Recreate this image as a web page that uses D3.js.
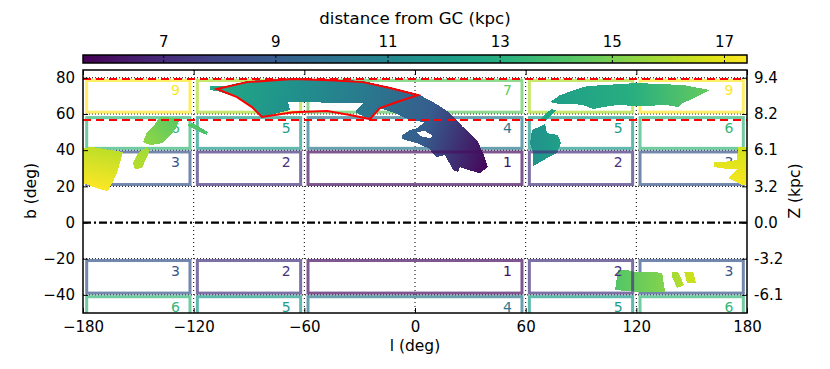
<!DOCTYPE html>
<html>
<head>
<meta charset="utf-8">
<script src="https://cdn.jsdelivr.net/npm/d3@7"></script>
<style>
    body { margin: 0; background: #fff; }
    text { font-family: "DejaVu Sans", sans-serif; }
</style>
</head>
<body>
<svg></svg>
<script>
// axis ticks
const lTicks = [-180, -120, -60, 0, 60, 120, 180];
const bTicks = [-40, -20, 0, 20, 40, 60, 80];
const zLabels = ['-6.1', '-3.2', '0.0', '3.2', '6.1', '8.2', '9.4'];
const distTicks = [7, 9, 11, 13, 15, 17];

// reference lines (deg)
const lGrid = [-120, -60, 0, 60, 120];
const bGrid = [-40, -20, 20, 40, 60, 80];
const bRed = [79.3, 56.6];

// survey boxes: ranges in deg, number and distance of each field
const colRanges = [[-178, -122], [-118, -62], [-58, 58], [62, 118], [122, 178]];
const rowRanges = [[61, 78.5], [41, 58], [21, 39], [-39, -21], [-52, -41]];
const rowFields = [[9, 8, 7, 8, 9], [6, 5, 4, 5, 6], [3, 2, 1, 2, 3], [3, 2, 1, 2, 3], [6, 5, 4, 5, 6]];
const fieldDist = [6.0, 7.3, 8.7, 10.3, 12.0, 13.4, 14.5, 16.0, 17.4];

// stream outlines, [l, b]
const mainStream = [[-111,75.4],[-103,75.4],[-91,78.2],[-66,79.8],[-46,79.3],[-28,78.2],[-13.5,74.9],[1.6,71],[10.8,66],[19,60.5],[26,52.8],[33.6,45.6],[36.9,38.4],[39.6,30.7],[35.2,27.3],[28.7,29],[24.4,30.7],[23.3,27.9],[20.6,29],[16.3,37.3],[11.9,36.2],[9.2,38.4],[8.1,40.6],[1.1,43.9],[-7,46.1],[-7,48.3],[-2.7,51.1],[1.1,52.2],[5.4,55.5],[-2.7,56.6],[-10.8,60.5],[-19,63.3],[-22.8,59.9],[-24.4,57.2],[-32.5,61],[-28.2,66],[-68.9,66.6],[-67.8,62.2],[-83,58.3],[-88.4,63.8],[-96.5,69.3],[-107.4,72.7],[-111,73.2]];
const mainHole = [[1.1,50],[5.4,50.6],[9.8,47.8],[8.1,46.7],[2.7,47.8]];
const rightArc = [[73.2,66.6],[78.6,70.4],[89.5,74.3],[93.8,75.4],[120.4,77.1],[145.3,76],[160,73.2],[154.6,70.4],[145.3,66],[142.6,63.8],[136.7,64.9],[122,64.4],[109.5,64.9],[102,63.8],[96.5,62.7],[91.1,64.9],[85.7,65.5],[78.6,65.5]];
const arcStrip = [[73.8,62.7],[76.5,62.2],[71,56.6],[67.8,57.2]];
const midClump = [[63.4,51.1],[70.5,54.4],[71.6,49.4],[77.5,48.3],[79.2,43.9],[77,38.4],[71.6,35.6],[64,31.2],[64,38.4],[62.4,43.9]];
const leftUpper = [[-138.3,58.3],[-127.4,57.7],[-130.2,51.1],[-136.7,43.9],[-143.7,42.8],[-147.5,44.5],[-145.3,50],[-142.6,52.2]];
const leftLower = [[-145.3,41.7],[-143.7,40],[-148,30.1],[-151.8,29.6],[-152.9,32.9],[-150.2,38.4]];
const leftSliver = [[-123.6,53.9],[-120.4,55],[-112.3,50],[-112.8,48.3],[-120.9,52.2]];
const edgeLeft = [[-180,41.2],[-175.2,41.7],[-158.4,39],[-161,29],[-163.8,22.4],[-166.5,17.4],[-169.7,18],[-180,21.8]];
const edgeRight = [[162.1,33.4],[166.5,33.4],[174.6,34.5],[175.2,41.7],[180,41.7],[180,20.7],[177.3,20.7],[169.7,24.6],[172.5,27.3],[174.6,29.6],[169.2,29.6],[162.1,30.7]];
const southBig = [[110,-26.2],[115,-26.2],[119.3,-27.3],[129,-27.3],[134,-27.9],[135.6,-38.4],[122,-38.4],[108.5,-37.3]];
const southMid = [[139.4,-27.3],[142.6,-27.3],[145.9,-34.5],[142.1,-36.2],[139.4,-30.1]];
const southSmall = [[145.9,-27.3],[150.8,-27.3],[152.4,-33.4],[147.5,-33.4]];

// the red outline of the selected stream
const redOutline = [[-107.4,73.8],[-91.1,77.6],[-66.2,79.3],[-46.1,78.7],[-28.2,77.6],[-13.6,74.3],[1.6,70.4],[-9.8,66.6],[-19,63.3],[-24.4,57.2],[-35.2,59.4],[-47.7,61.6],[-66.2,61],[-83,58.3],[-88.4,63.8],[-96.5,69.3]];

// rings, gradient ends [l, b] and distances along the gradient
const streams = [
    { rings: [mainStream, mainHole], from: [-107, 74], to: [38, 28], dist: [12.7, 11.6, 10.4, 9.0, 5.8] },
    { rings: [rightArc], from: [75, 68], to: [160, 73], dist: [12.2, 13.0, 14.6] },
    { rings: [arcStrip], from: [70, 60], to: [72, 60], dist: [12.6, 12.6] },
    { rings: [midClump], from: [62, 40], to: [80, 40], dist: [11.5, 12.3] },
    { rings: [leftUpper], from: [-130, 58], to: [-146, 44], dist: [14.4, 15.4] },
    { rings: [leftLower], from: [-145, 42], to: [-151, 30], dist: [15.7, 16.1] },
    { rings: [leftSliver], from: [-122, 52], to: [-112, 50], dist: [14.2, 14.0] },
    { rings: [edgeLeft], from: [-165, 41], to: [-170, 18], dist: [16.2, 17.4] },
    { rings: [edgeRight], from: [175, 41], to: [175, 21], dist: [16.6, 17.3] },
    { rings: [southBig], from: [108, -32], to: [136, -32], dist: [14.2, 15.2] },
    { rings: [southMid], from: [140, -30], to: [146, -30], dist: [15.8, 16.1] },
    { rings: [southSmall], from: [146, -30], to: [152, -30], dist: [16.4, 16.5] }
];

const width = 830, height = 369;
const fontSize = '15px';

const svg = d3.select('svg')
    .attr('width', width)
    .attr('height', height)
    .style('display', 'block');

const x = d3.scaleLinear().domain([-180, 180]).range([83, 747]);
const y = d3.scaleLinear().domain([-50, 84.3]).range([313, 70]);
const distScale = d3.scaleLinear().domain([5.57, 17.41]).range([83, 747]);
const color = d3.scaleSequential(d3.interpolateViridis).domain([5.57, 17.41]);

const defs = svg.append('defs');
defs.append('clipPath').attr('id', 'plot')
    .append('rect')
    .attr('x', x(-180)).attr('y', y(84.3))
    .attr('width', x(180) - x(-180)).attr('height', y(-50) - y(84.3));

const cbGrad = defs.append('linearGradient').attr('id', 'cb');
d3.range(0, 1.0001, 0.05).forEach(t => {
    cbGrad.append('stop').attr('offset', t).attr('stop-color', d3.interpolateViridis(t));
});

const plot = svg.append('g').attr('clip-path', 'url(#plot)');

function drawBoxes(parent, keep) {
    rowRanges.forEach((row, r) => {
        colRanges.forEach((col, c) => {
            const field = rowFields[r][c];
            if (!keep(field)) return;
            const d = fieldDist[field - 1];
            parent.append('rect')
                .attr('x', x(col[0]))
                .attr('y', y(row[1]))
                .attr('width', x(col[1]) - x(col[0]))
                .attr('height', y(row[0]) - y(row[1]))
                .attr('fill', 'none')
                .attr('stroke', color(d))
                .attr('stroke-opacity', 0.7)
                .attr('stroke-width', 3);
            parent.append('text')
                .attr('x', x(col[1]) - 10)
                .attr('y', y(row[1]) + 15)
                .attr('text-anchor', 'end')
                .attr('font-size', '14px')
                .attr('fill', color(d))
                .text(field);
        });
    });
}

// dotted guides go under everything
plot.selectAll('.vgrid').data(lGrid).join('line')
    .attr('x1', d => x(d)).attr('x2', d => x(d))
    .attr('y1', y(84.3)).attr('y2', y(-50))
    .attr('stroke', '#000').attr('stroke-width', 1).attr('stroke-dasharray', '1,3');
plot.selectAll('.hgrid').data(bGrid).join('line')
    .attr('x1', x(-180)).attr('x2', x(180))
    .attr('y1', d => y(d)).attr('y2', d => y(d))
    .attr('stroke', '#000').attr('stroke-width', 1).attr('stroke-dasharray', '1,2');

plot.append('line')
    .attr('x1', x(-180)).attr('x2', x(180))
    .attr('y1', y(0)).attr('y2', y(0))
    .attr('stroke', '#000').attr('stroke-width', 2.2).attr('stroke-dasharray', '8,3,2,3');

// far fields sit under the streams, fields 1 and 2 on top of them
drawBoxes(plot, f => f > 2);

const ring = d3.line().x(d => x(d[0])).y(d => y(d[1])).curve(d3.curveLinear);

streams.forEach((s, i) => {
    const grad = defs.append('linearGradient')
        .attr('id', 'stream' + i)
        .attr('gradientUnits', 'userSpaceOnUse')
        .attr('x1', x(s.from[0])).attr('y1', y(s.from[1]))
        .attr('x2', x(s.to[0])).attr('y2', y(s.to[1]));
    s.dist.forEach((d, j) => {
        grad.append('stop')
            .attr('offset', j / (s.dist.length - 1))
            .attr('stop-color', color(d));
    });
    plot.append('path')
        .attr('d', s.rings.map(r => ring(r) + 'Z').join(''))
        .attr('fill', `url(#stream${i})`)
        .attr('fill-rule', 'evenodd')
        .attr('shape-rendering', 'crispEdges');
});

drawBoxes(plot, f => f <= 2);

plot.selectAll('.red').data(bRed).join('line')
    .attr('x1', x(-180)).attr('x2', x(180))
    .attr('y1', d => y(d)).attr('y2', d => y(d))
    .attr('stroke', '#f00').attr('stroke-width', 2).attr('stroke-dasharray', '8,5');

plot.append('path')
    .attr('d', ring(redOutline) + 'Z')
    .attr('fill', 'none')
    .attr('stroke', '#f00')
    .attr('stroke-width', 2);

// frame and axes, ticks point inward
svg.append('rect')
    .attr('x', x(-180)).attr('y', y(84.3))
    .attr('width', x(180) - x(-180)).attr('height', y(-50) - y(84.3))
    .attr('fill', 'none').attr('stroke', '#000').attr('stroke-width', 1.5);

function styleAxis(g) {
    g.select('.domain').remove();
    g.selectAll('.tick line').attr('stroke', '#000');
    g.selectAll('.tick text').attr('font-size', fontSize).attr('font-family', '"DejaVu Sans", sans-serif').attr('fill', '#000');
}

const fmt = d => String(d).replace('-', '\u2212');

svg.append('g').attr('transform', `translate(0,${y(-50)})`)
    .call(d3.axisBottom(x).tickValues(lTicks).tickFormat(fmt).tickSizeInner(-5).tickSizeOuter(0).tickPadding(8))
    .call(styleAxis);
svg.append('g').attr('transform', `translate(0,${y(84.3)})`)
    .call(d3.axisTop(x).tickValues(lTicks).tickFormat('').tickSizeInner(-5).tickSizeOuter(0))
    .call(styleAxis);
svg.append('g').attr('transform', `translate(${x(-180)},0)`)
    .call(d3.axisLeft(y).tickValues(bTicks).tickFormat(fmt).tickSizeInner(-5).tickSizeOuter(0).tickPadding(8))
    .call(styleAxis);
svg.append('g').attr('transform', `translate(${x(180)},0)`)
    .call(d3.axisRight(y).tickValues(bTicks).tickFormat((d, i) => zLabels[i]).tickSizeInner(-5).tickSizeOuter(0).tickPadding(7))
    .call(styleAxis);

// colour bar
const cbTop = 55, cbBottom = 63;
svg.append('rect')
    .attr('x', 83).attr('y', cbTop)
    .attr('width', 664).attr('height', cbBottom - cbTop)
    .attr('fill', 'url(#cb)')
    .attr('stroke', '#000').attr('stroke-width', 1.5);
svg.append('g').attr('transform', `translate(0,${cbTop})`)
    .call(d3.axisTop(distScale).tickValues(distTicks).tickFormat(d3.format('d')).tickSizeInner(-3).tickSizeOuter(0).tickPadding(8))
    .call(styleAxis);
svg.append('g').attr('transform', `translate(0,${cbBottom})`)
    .call(d3.axisBottom(distScale).tickValues(distTicks).tickFormat('').tickSizeInner(-3).tickSizeOuter(0))
    .call(styleAxis);

// axis titles
svg.append('text').attr('x', 415).attr('y', 24).attr('text-anchor', 'middle')
    .attr('font-size', '16.6px').text('distance from GC (kpc)');
svg.append('text').attr('x', 415).attr('y', 351).attr('text-anchor', 'middle')
    .attr('font-size', '15.5px').text('l (deg)');
svg.append('text').attr('transform', 'translate(36,191) rotate(-90)').attr('text-anchor', 'middle')
    .attr('font-size', '15.5px').text('b (deg)');
svg.append('text').attr('transform', 'translate(800,191) rotate(-90)').attr('text-anchor', 'middle')
    .attr('font-size', '15.5px').text('Z (kpc)');
</script>
</body>
</html>
